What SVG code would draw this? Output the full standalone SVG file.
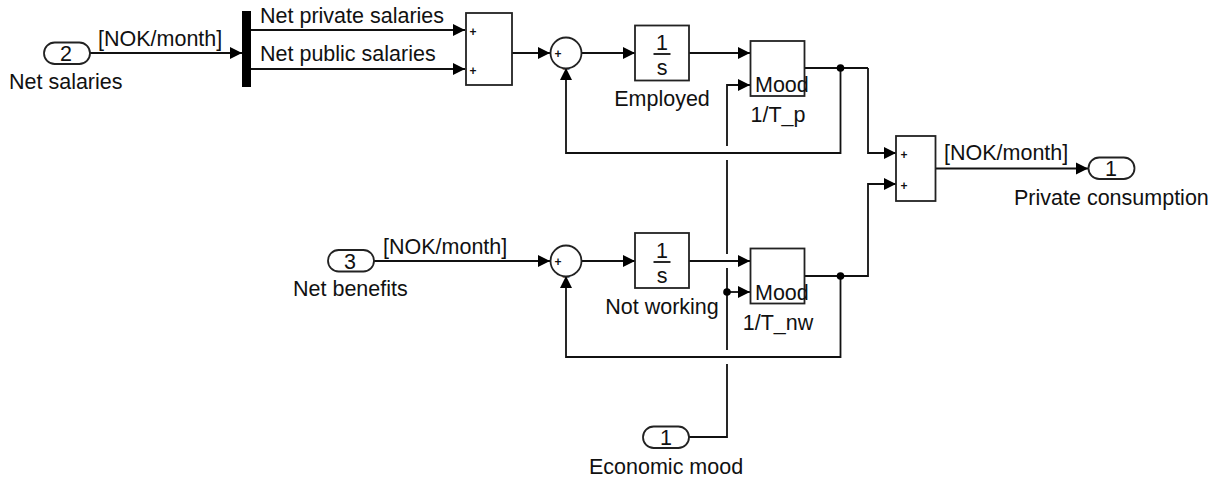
<svg xmlns="http://www.w3.org/2000/svg" width="1218" height="482" viewBox="0 0 1218 482">
<style>
text{font-family:"Liberation Sans",Arial,sans-serif;font-size:21.5px;fill:#111}
.m{text-anchor:middle}
.s{font-size:12px;font-weight:bold}
.b,.port{fill:#fff;stroke:#222;stroke-width:1.8}
.c{fill:none;stroke:#111;stroke-width:1.8}
.a{marker-end:url(#ah)}
</style>
<defs>
<marker id="ah" markerUnits="userSpaceOnUse" markerWidth="14" markerHeight="14" refX="13" refY="6.5" orient="auto"><path d="M1 0.5L13 6.5L1 12.5Z" fill="#000"/></marker>
</defs>
<rect width="1218" height="482" fill="#fff"/>
<g id="connectors">
<path class="c a" d="M90 53H242"/>
<path class="c a" d="M251 30H465"/>
<path class="c a" d="M251 69H465"/>
<path class="c a" d="M512 53H550"/>
<path class="c a" d="M581 53H635"/>
<path class="c a" d="M689 53H750"/>
<path class="c a" d="M727 146V85H750"/>
<path class="c" d="M727 160V254M727 268V350M727 364V437H689"/>
<path class="c" d="M805 68H868"/>
<path class="c a" d="M868 68V153H896"/>
<path class="c a" d="M840.5 68V153H566V68"/>
<path class="c a" d="M804 276H868V184H896"/>
<path class="c a" d="M374 261H550"/>
<path class="c a" d="M581 261H635"/>
<path class="c a" d="M689 261H750"/>
<path class="c a" d="M727 292H750"/>
<path class="c a" d="M840.5 276V357H566V276"/>
<path class="c a" d="M935 168.500H1088"/>
<circle cx="840.500" cy="68" r="3.800" fill="#000"/>
<circle cx="840.500" cy="276" r="3.800" fill="#000"/>
<circle cx="727" cy="292" r="3.800" fill="#000"/>
</g>
<g id="in2"><rect class="port" x="44" y="42.500" width="46" height="21.500" rx="10.700"/><text class="m" x="66" y="61">2</text><text x="9" y="89">Net salaries</text></g>
<g id="in3"><rect class="port" x="328" y="250" width="46" height="21.500" rx="10.700"/><text class="m" x="350" y="268.500">3</text><text x="293" y="296">Net benefits</text></g>
<g id="in1"><rect class="port" x="643" y="426.500" width="46" height="21.500" rx="10.700"/><text class="m" x="666" y="445">1</text><text x="589" y="474">Economic mood</text></g>
<g id="out1"><rect class="port" x="1088.500" y="157.500" width="46" height="21.500" rx="10.700"/><text class="m" x="1111" y="176">1</text><text x="1014" y="205">Private consumption</text></g>
<g id="bar"><rect x="242" y="11" width="9" height="76" fill="#000"/></g>
<g id="sum1"><rect class="b" x="466" y="13" width="46" height="72"/><text class="s m" x="473" y="36">+</text><text class="s m" x="473" y="75">+</text></g>
<g id="sum2"><circle class="b" cx="566" cy="53" r="15.500"/><text class="s m" x="558" y="58">+</text><text class="s m" x="566" y="68">_</text></g>
<g id="sum3"><circle class="b" cx="566" cy="261" r="15.500"/><text class="s m" x="558" y="266">+</text><text class="s m" x="566" y="276">_</text></g>
<g id="employed"><rect class="b" x="635" y="25.500" width="54" height="55"/><text class="m" x="662" y="50">1</text><path class="c" d="M653.500 54H670.500"/><text class="m" x="662" y="75">s</text><text class="m" x="662" y="106">Employed</text></g>
<g id="notworking"><rect class="b" x="635" y="233" width="54" height="55"/><text class="m" x="662" y="258">1</text><path class="c" d="M653.500 262H670.500"/><text class="m" x="662" y="283">s</text><text class="m" x="662" y="314">Not working</text></g>
<g id="tp"><rect class="b" x="750.500" y="41" width="54" height="55"/><text x="755" y="92">Mood</text><text class="m" x="778" y="122">1/T_p</text></g>
<g id="tnw"><rect class="b" x="750.500" y="248.500" width="54" height="55"/><text x="755" y="300">Mood</text><text class="m" x="778" y="330">1/T_nw</text></g>
<g id="sum4"><rect class="b" x="896" y="136" width="39.500" height="65"/><text class="s m" x="904" y="159">+</text><text class="s m" x="904" y="190">+</text></g>
<g id="labels"><text x="98" y="46">[NOK/month]</text><text x="260" y="23">Net private salaries</text><text x="260" y="61">Net public salaries</text><text x="383" y="254">[NOK/month]</text><text x="944" y="160">[NOK/month]</text></g>
</svg>
